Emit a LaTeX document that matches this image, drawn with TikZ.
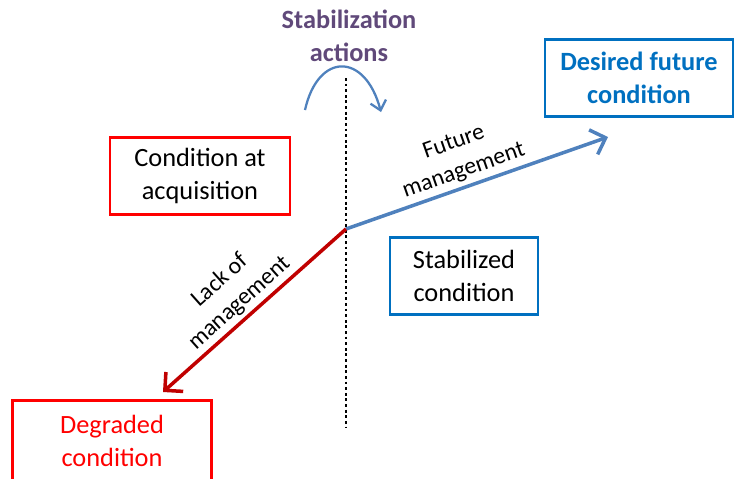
\documentclass[tikz,border=0pt]{standalone}
\usepackage{fontspec}
\setmainfont{Carlito}
\usetikzlibrary{arrows.meta}
\definecolor{boxred}{RGB}{255,0,0}
\definecolor{boxblue}{RGB}{0,112,192}
\definecolor{arrblue}{RGB}{79,129,189}
\definecolor{arrred}{RGB}{192,0,0}
\definecolor{stabpurple}{RGB}{96,73,122}
\begin{document}
\begin{tikzpicture}[x=0.02cm,y=-0.02cm,
  font=\fontsize{15}{18.5}\selectfont,
  condbox/.style={draw,line width=1.4pt,align=center,minimum height=1.54cm,inner sep=0pt},
  pathlabel/.style={align=center,font=\fontsize{13.5}{17}\selectfont},
  bigarrow/.style={line width=2pt,-{Straight Barb[length=2.6mm,width=5.2mm,line width=2pt]}}]
\useasboundingbox (0,0) rectangle (735,478);
\clip (0,0) rectangle (735,478);
% axis of the stabilization step
\coordinate (dtop) at (346,78);
\coordinate (dbot) at (346,428);
\draw[line width=1.7pt,dash pattern=on 1.6pt off 1.6pt] (dtop) -- (dbot);
\node[font=\fontsize{15}{18.5}\selectfont\bfseries,text=stabpurple,align=center] (stab) at (349,36) {Stabilization\\actions};
\coordinate (sa) at (305,110);
\coordinate (se) at (381,112);
\draw[arrblue,line width=1.3pt,-{Straight Barb[length=1.8mm,width=3.2mm,line width=1.3pt]}] (sa) .. controls (318,52) and (365,52) .. (se);
% the four conditions
\node[condbox,draw=boxred,minimum width=3.6cm] (acq) at (200,176) {Condition at\\acquisition};
\node[condbox,draw=boxblue,minimum width=2.96cm] (stabc) at (464,276) {Stabilized\\condition};
\node[condbox,draw=boxblue,text=boxblue,font=\fontsize{15}{18.5}\selectfont\bfseries,minimum width=3.76cm] (des) at (639,78) {Desired future\\condition};
\node[condbox,draw=boxred,text=boxred,minimum width=3.98cm,minimum height=1.62cm] (deg) at (112,441) {Degraded\\condition};
% management paths
\coordinate (o) at (346,229);
\coordinate (fm) at (608,137);
\coordinate (lm) at (163,392);
\draw[arrblue,bigarrow] (o) -- (fm);
\draw[arrred,bigarrow] (o) -- (lm);
\node[pathlabel,rotate=19.3] (fml) at (459,157) {Future\\management};
\node[pathlabel,rotate=41.7] (lml) at (230,292) {Lack of\\management};
\end{tikzpicture}
\end{document}
